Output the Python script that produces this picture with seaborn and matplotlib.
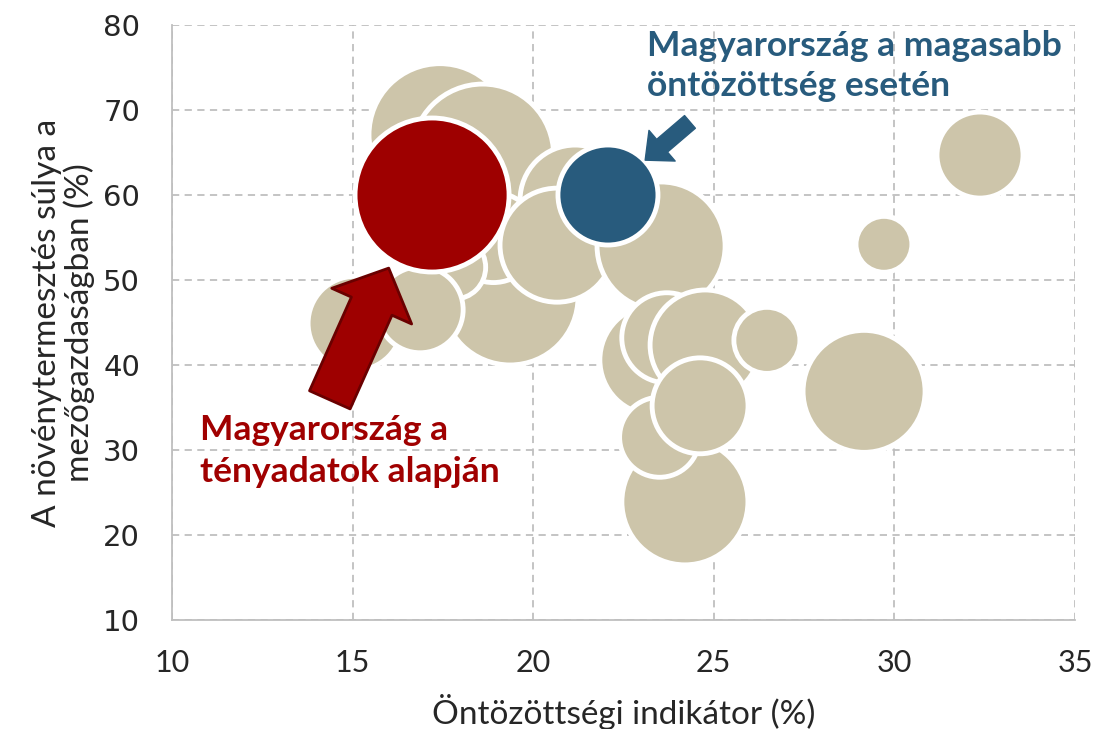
import matplotlib
matplotlib.use("Agg")
import matplotlib.pyplot as plt
import seaborn as sns
import pandas as pd

# ---- data ----
irrigation = [17.42, 18.6, 21.16, 19.36, 15.07, 18.9, 17.8, 16.87, 20.66, 23.54,
              24.2, 23.37, 23.7, 24.76, 26.47, 23.5, 24.62, 29.16, 29.71, 32.37,
              17.2, 22.07]
crop_share = [67.1, 64.7, 59.4, 48.0, 44.9, 55.0, 51.5, 46.5, 54.1, 54.0,
              23.9, 40.6, 43.2, 42.35, 42.9, 31.5, 35.2, 36.9, 54.2, 64.7,
              60.0, 60.0]
bubble_size = [50.4, 50.4, 30.3, 46.2, 22.1, 20.3, 10.2, 18.5, 32.5, 41.0,
               39.7, 30.3, 20.3, 30.3, 10.9, 16.0, 23.0, 37.2, 7.8, 18.5,
               59.3, 25.0]
group = ["other"] * 20 + ["actual", "scenario"]

xticks = [10, 15, 20, 25, 30, 35]
yticks = [10, 20, 30, 40, 50, 60, 70, 80]
xlabel = "Öntözöttségi indikátor (%)"
ylabel = "A növénytermesztés súlya a\nmezőgazdaságban (%)"
label_actual = "Magyarország a\ntényadatok alapján"
label_scenario = "Magyarország a magasabb\nöntözöttség esetén"

palette = {"other": "#CDC5AA", "actual": "#9E0000", "scenario": "#285B7D"}

df = pd.DataFrame({"x": irrigation, "y": crop_share, "s": bubble_size, "g": group})

sns.set_style("white")
plt.rcParams["font.family"] = ["Lato", "DejaVu Sans"]

fig = plt.figure(figsize=(11.01, 7.29), dpi=100)
ax = fig.add_axes([0.1562, 0.1495, 0.8202, 0.8162])

sns.scatterplot(data=df, x="x", y="y", size="s", hue="g", palette=palette,
                sizes=(0, 20736), size_norm=(0, 100), legend=False,
                edgecolor="white", linewidth=3.5, alpha=1, ax=ax, zorder=3)

ax.set_xlim(10, 35)
ax.set_ylim(10, 80)
ax.set_xticks(xticks)
ax.set_yticks(yticks)
ax.grid(True, linestyle=(0, (4, 3)), color="#BFBFBF", linewidth=1.3, zorder=0)
ax.set_axisbelow(True)
for side in ["top", "right"]:
    ax.spines[side].set_visible(False)
for side in ["left", "bottom"]:
    ax.spines[side].set_color("#BFBFBF")
    ax.spines[side].set_linewidth(1.3)

ax.tick_params(axis="x", length=0, pad=21, labelsize=22)
ax.tick_params(axis="y", length=0, pad=23)
for lab in ax.get_yticklabels():
    lab.set_fontfamily("DejaVu Sans")
    lab.set_fontsize(21)

ax.set_xlabel(xlabel, fontsize=24)
ax.set_ylabel(ylabel, fontsize=24, linespacing=1.05)
ax.xaxis.set_label_coords(0.5, -0.125)
ax.yaxis.set_label_coords(-0.085, 0.5)

# arrows
ax.annotate("", xy=(16.0, 51.4), xytext=(14.37, 35.9),
            arrowprops=dict(arrowstyle="simple,head_length=3.0,head_width=6.3,tail_width=3.2",
                            fc="#9E0000", ec="#6A0000", lw=2, mutation_scale=10,
                            shrinkA=0, shrinkB=0), zorder=5)
ax.annotate("", xy=(23.1, 64.1), xytext=(24.34, 68.6),
            arrowprops=dict(arrowstyle="simple,head_length=1.6,head_width=2.9,tail_width=1.2",
                            fc="#285B7D", ec="#285B7D", lw=1, mutation_scale=10,
                            shrinkA=0, shrinkB=0), zorder=5)

ax.text(10.78, 34.2, label_actual, color="#A00000", fontsize=25.5, fontweight="bold",
        ha="left", va="top", linespacing=1.38, zorder=6)
ax.text(23.15, 79.4, label_scenario, color="#285B7D", fontsize=25.5, fontweight="bold",
        ha="left", va="top", linespacing=1.32, zorder=6)

fig.savefig("out.png", dpi=100)
